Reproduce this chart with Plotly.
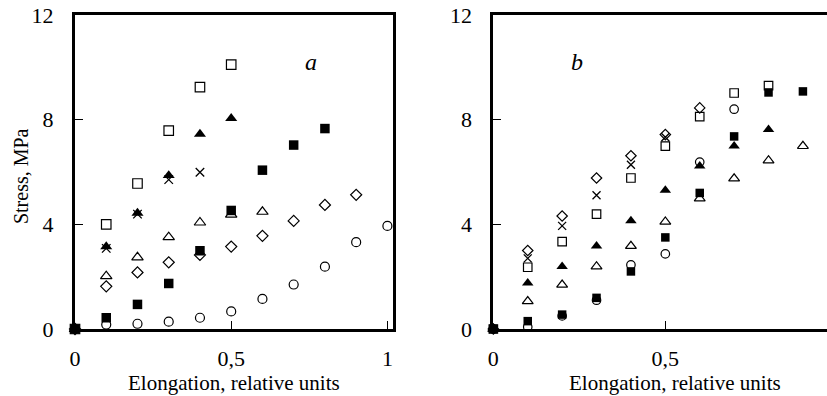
import plotly.graph_objects as go
from plotly.subplots import make_subplots

# ---------------- Data ----------------
# Panel a
a_x_open_square = [0, 0.1, 0.2, 0.3, 0.4, 0.5]
a_y_open_square = [0, 4.0, 5.56, 7.58, 9.24, 10.1]

a_x_filled_triangle = [0, 0.1, 0.2, 0.3, 0.4, 0.5]
a_y_filled_triangle = [0, 3.15, 4.43, 5.87, 7.45, 8.05]

a_x_cross = [0, 0.1, 0.2, 0.3, 0.4]
a_y_cross = [0, 3.08, 4.39, 5.71, 5.99]

a_x_open_triangle = [0, 0.1, 0.2, 0.3, 0.4, 0.5, 0.6]
a_y_open_triangle = [0, 2.02, 2.74, 3.51, 4.07, 4.37, 4.48]

a_x_filled_square = [0, 0.1, 0.2, 0.3, 0.4, 0.5, 0.6, 0.7, 0.8]
a_y_filled_square = [0, 0.43, 0.94, 1.74, 2.99, 4.53, 6.07, 7.03, 7.66]

a_x_diamond = [0, 0.1, 0.2, 0.3, 0.4, 0.5, 0.6, 0.7, 0.8, 0.9]
a_y_diamond = [0, 1.63, 2.16, 2.55, 2.83, 3.15, 3.56, 4.13, 4.74, 5.13]

a_x_circle = [0, 0.1, 0.2, 0.3, 0.4, 0.5, 0.6, 0.7, 0.8, 0.9, 1.0]
a_y_circle = [0, 0.17, 0.2, 0.28, 0.43, 0.67, 1.15, 1.70, 2.38, 3.32, 3.94]

# Panel b
b_x_diamond = [0, 0.1, 0.2, 0.3, 0.4, 0.5, 0.6]
b_y_diamond = [0, 3.0, 4.32, 5.77, 6.62, 7.43, 8.45]

b_x_cross = [0, 0.1, 0.2, 0.3, 0.4, 0.5]
b_y_cross = [0, 2.7, 3.94, 5.11, 6.28, 7.33]

b_x_open_square = [0, 0.1, 0.2, 0.3, 0.4, 0.5, 0.6, 0.7, 0.8]
b_y_open_square = [0, 2.36, 3.34, 4.39, 5.77, 6.99, 8.12, 9.02, 9.3]

b_x_circle = [0, 0.1, 0.2, 0.3, 0.4, 0.5, 0.6, 0.7]
b_y_circle = [0, 0.08, 0.5, 1.1, 2.45, 2.87, 6.38, 8.4]

b_x_filled_square = [0, 0.1, 0.2, 0.3, 0.4, 0.5, 0.6, 0.7, 0.8, 0.9]
b_y_filled_square = [0, 0.3, 0.55, 1.19, 2.2, 3.5, 5.2, 7.36, 9.04, 9.08]

b_x_filled_triangle = [0, 0.1, 0.2, 0.3, 0.4, 0.5, 0.6, 0.7, 0.8]
b_y_filled_triangle = [0, 1.76, 2.39, 3.17, 4.14, 5.3, 6.23, 6.99, 7.62]

b_x_open_triangle = [0, 0.1, 0.2, 0.3, 0.4, 0.5, 0.6, 0.7, 0.8, 0.9]
b_y_open_triangle = [0, 1.06, 1.69, 2.39, 3.17, 4.1, 4.99, 5.75, 6.44, 6.99]

y_tickvals = [0, 4, 8, 12]
y_ticktext = ["0", "4", "8", "12"]
a_x_tickvals = [0, 0.5, 1]
a_x_ticktext = ["0", "0,5", "1"]
b_x_tickvals = [0, 0.5]
b_x_ticktext = ["0", "0,5"]

x_title = "Elongation, relative units"
y_title = "Stress, MPa"

# ---------------- Figure ----------------
FONT = "Liberation Serif"
fig = make_subplots(rows=1, cols=2, horizontal_spacing=0.0)

def add(x, y, symbol, size, col, lw=1.2):
    fig.add_trace(go.Scatter(
        x=x, y=y, mode="markers", cliponaxis=False, showlegend=False,
        marker=dict(symbol=symbol, size=size, color="black",
                    line=dict(color="black", width=lw))),
        row=1, col=col)

# panel a (open first, filled on top)
add(a_x_circle, a_y_circle, "circle-open", 9, 1)
add(a_x_diamond, a_y_diamond, "diamond-open", 8.5, 1)
add(a_x_open_triangle, a_y_open_triangle, "triangle-up-open", 10, 1)
add(a_x_open_square, a_y_open_square, "square-open", 9.5, 1)
add(a_x_cross, a_y_cross, "x-thin-open", 8.5, 1, 1.3)
add(a_x_filled_triangle, a_y_filled_triangle, "triangle-up", 10.5, 1, 0)
add(a_x_filled_square, a_y_filled_square, "square", 9.5, 1, 0)

# panel b
add(b_x_circle, b_y_circle, "circle-open", 8.5, 2)
add(b_x_diamond, b_y_diamond, "diamond-open", 8, 2)
add(b_x_open_triangle, b_y_open_triangle, "triangle-up-open", 9.5, 2)
add(b_x_open_square, b_y_open_square, "square-open", 8.5, 2)
add(b_x_cross, b_y_cross, "x-thin-open", 8, 2, 1.3)
add(b_x_filled_triangle, b_y_filled_triangle, "triangle-up", 10, 2, 0)
add(b_x_filled_square, b_y_filled_square, "square", 8.5, 2, 0)

axis_common = dict(showgrid=False, zeroline=False, showline=True, linecolor="black",
                   linewidth=3, ticks="inside", ticklen=8, tickwidth=1,
                   tickcolor="black", automargin=False,
                   tickfont=dict(family=FONT, size=22, color="black"))

fig.update_xaxes(domain=[0, 0.4229], range=[0, 1.018], tickvals=a_x_tickvals,
                 ticktext=a_x_ticktext, mirror=True, ticklabelstandoff=8,
                 row=1, col=1, **axis_common)
fig.update_xaxes(domain=[0.5563, 1], range=[0, 0.970], tickvals=b_x_tickvals,
                 ticktext=b_x_ticktext, mirror=True, ticklabelstandoff=8,
                 row=1, col=2, **axis_common)
fig.update_yaxes(range=[0, 12], tickvals=y_tickvals, ticktext=y_ticktext, mirror=True,
                 ticklabelstandoff=14, row=1, col=1, **axis_common)
fig.update_yaxes(range=[0, 12], tickvals=y_tickvals, ticktext=y_ticktext, mirror=False,
                 ticklabelstandoff=14, row=1, col=2, **axis_common)

# axis titles as annotations (paper coords)
title_font = dict(family=FONT, size=21, color="black")
fig.add_annotation(x=0.2108, y=-0.172, xref="paper", yref="paper", text=x_title,
                   showarrow=False, font=title_font, xanchor="center", yanchor="middle")
fig.add_annotation(x=0.798, y=-0.172, xref="paper", yref="paper", text=x_title,
                   showarrow=False, font=title_font, xanchor="center", yanchor="middle")
fig.add_annotation(x=-0.0718, y=0.487, xref="paper", yref="paper", text=y_title,
                   showarrow=False, font=dict(family=FONT, size=20, color="black"),
                   textangle=-90, xanchor="center", yanchor="middle")

fig.add_annotation(x=0.755, y=10.2, xref="x", yref="y", text="<i>a</i>", showarrow=False,
                   font=dict(family=FONT, size=24, color="black"))
fig.add_annotation(x=0.243, y=10.2, xref="x2", yref="y2", text="<i>b</i>", showarrow=False,
                   font=dict(family=FONT, size=24, color="black"))

fig.update_layout(width=827, height=396, margin=dict(l=75, r=0, t=15, b=67, autoexpand=False),
                  plot_bgcolor="white", paper_bgcolor="white",
                  font=dict(family=FONT, color="black"))

fig.write_html("out.html", config={"displayModeBar": False},
               post_script="document.body.style.margin='0';document.body.style.overflow='hidden';")
